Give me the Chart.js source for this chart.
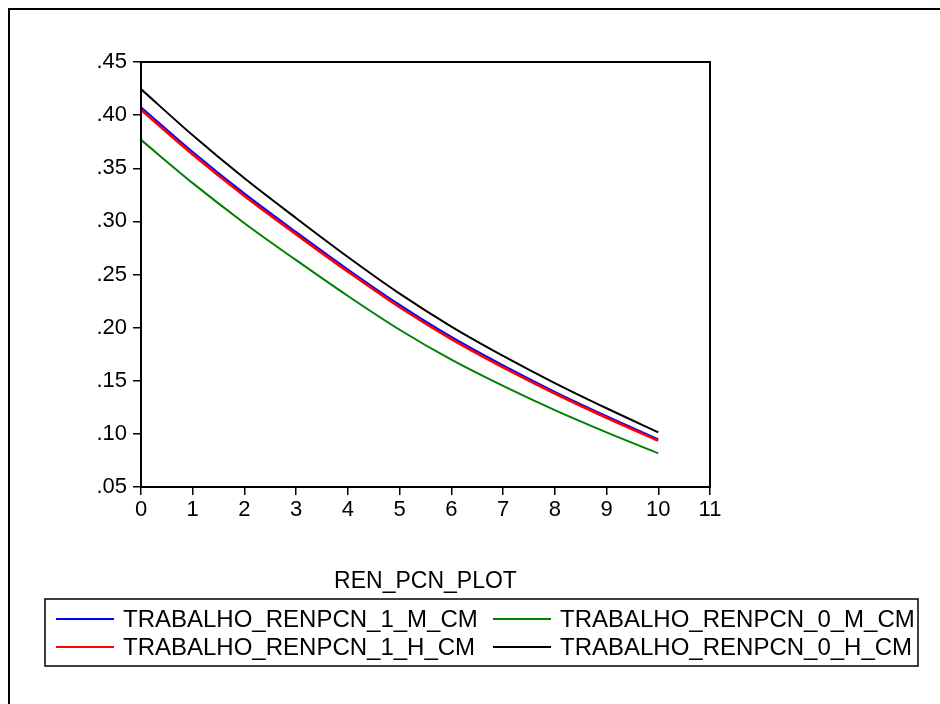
<!DOCTYPE html>
<html>
<head>
<meta charset="utf-8">
<script src="https://cdn.jsdelivr.net/npm/chart.js@4.4.1/dist/chart.umd.min.js"></script>
<style>
html,body{margin:0;padding:0;background:#fff;}
#wrap{width:940px;height:704px;position:relative;}
canvas{display:block;}
</style>
</head>
<body>
<div id="wrap"><canvas id="c" width="940" height="704"></canvas></div>
<script>
// ---- data ----
const renPcn = [0, 1, 2, 3, 4, 5, 6, 7, 8, 9, 10];
const trab1M = [0.4075, 0.3653, 0.3261, 0.2899, 0.2547, 0.2214, 0.1912, 0.1644, 0.1396, 0.1167, 0.0949];
const trab1H = [0.4050, 0.3629, 0.3239, 0.2878, 0.2527, 0.2192, 0.1892, 0.1626, 0.1380, 0.1152, 0.0936];
const trab0M = [0.3767, 0.3360, 0.2983, 0.2635, 0.2298, 0.1980, 0.1698, 0.1451, 0.1223, 0.1014, 0.0817];
const trab0H = [0.4245, 0.3810, 0.3405, 0.3030, 0.2665, 0.2320, 0.2010, 0.1734, 0.1478, 0.1241, 0.1015];
const seriesNames = ['TRABALHO_RENPCN_1_M_CM', 'TRABALHO_RENPCN_1_H_CM', 'TRABALHO_RENPCN_0_M_CM', 'TRABALHO_RENPCN_0_H_CM'];
const xTicks = [0, 1, 2, 3, 4, 5, 6, 7, 8, 9, 10, 11];
const yTicks = [0.05, 0.10, 0.15, 0.20, 0.25, 0.30, 0.35, 0.40, 0.45];
const xTitle = 'REN_PCN_PLOT';

const FONT = "'Liberation Sans', Arial, Helvetica, sans-serif";
const toPts = arr => arr.map((v, i) => ({x: renPcn[i], y: v}));

function ds(label, data, color, width, order) {
  return {
    label, data: toPts(data), borderColor: color, backgroundColor: color,
    borderWidth: width, pointRadius: 0, pointHoverRadius: 0, fill: false,
    cubicInterpolationMode: 'monotone', order
  };
}

const frame = {
  id: 'frame',
  beforeDraw(chart) {
    const c = chart.ctx;
    c.save();
    c.fillStyle = '#fff';
    c.fillRect(0, 0, chart.width, chart.height);
    c.strokeStyle = '#000';
    c.lineWidth = 2;
    c.beginPath();
    c.moveTo(9, chart.height);
    c.lineTo(9, 9);
    c.lineTo(chart.width, 9);
    c.stroke();
    c.restore();
  },
  afterDraw(chart) {
    const c = chart.ctx, a = chart.chartArea;
    c.save();
    c.strokeStyle = '#000';
    c.lineWidth = 2;
    c.strokeRect(a.left, a.top, a.right - a.left, a.bottom - a.top);
    // legend box
    c.lineWidth = 1.5;
    c.strokeRect(45, 599, 873, 67);
    const items = [
      {i: 0, x: 56, y: 619},
      {i: 1, x: 56, y: 647},
      {i: 2, x: 493, y: 619},
      {i: 3, x: 493, y: 647}
    ];
    c.font = '24px ' + FONT;
    c.textBaseline = 'middle';
    c.textAlign = 'left';
    items.forEach(it => {
      const d = chart.data.datasets[it.i];
      c.strokeStyle = d.borderColor;
      c.lineWidth = 2;
      c.beginPath();
      c.moveTo(it.x, it.y);
      c.lineTo(it.x + 58, it.y);
      c.stroke();
      c.fillStyle = '#000';
      c.fillText(d.label, it.x + 67, it.y + 1);
    });
    c.restore();
  }
};

new Chart(document.getElementById('c'), {
  type: 'line',
  data: {
    datasets: [
      ds(seriesNames[0], trab1M, '#0000ff', 2, 1),
      ds(seriesNames[1], trab1H, '#ff0000', 2.6, 0),
      ds(seriesNames[2], trab0M, '#008000', 2, 2),
      ds(seriesNames[3], trab0H, '#000000', 2, 3)
    ]
  },
  options: {
    responsive: false,
    animation: false,
    devicePixelRatio: 1,
    layout: {padding: {left: 0, top: 62, right: 230, bottom: 109}},
    plugins: {legend: {display: false}, tooltip: {enabled: false}, title: {display: false}},
    scales: {
      x: {
        type: 'linear', min: 0, max: 11,
        afterBuildTicks: s => { s.ticks = xTicks.map(v => ({value: v})); },
        afterFit: s => { s.height = 108; },
        grid: {drawOnChartArea: false, drawTicks: true, tickLength: 8, color: '#000', lineWidth: 1.5},
        border: {display: true, color: '#000', width: 2},
        ticks: {color: '#000', font: {family: FONT, size: 22}, padding: 2, maxRotation: 0, autoSkip: false,
                callback: v => String(v)},
        title: {display: true, text: xTitle, color: '#000', font: {family: FONT, size: 23}, padding: {top: 35, bottom: 0}}
      },
      y: {
        type: 'linear', min: 0.05, max: 0.45,
        afterBuildTicks: s => { s.ticks = yTicks.map(v => ({value: v})); },
        afterFit: s => { s.width = 141; },
        grid: {drawOnChartArea: false, drawTicks: true, tickLength: 8, color: '#000', lineWidth: 1.5},
        border: {display: true, color: '#000', width: 2},
        ticks: {color: '#000', font: {family: FONT, size: 22}, padding: 6, autoSkip: false,
                callback: v => v.toFixed(2).replace(/^0/, '')}
      }
    }
  },
  plugins: [frame]
});
</script>
</body>
</html>
